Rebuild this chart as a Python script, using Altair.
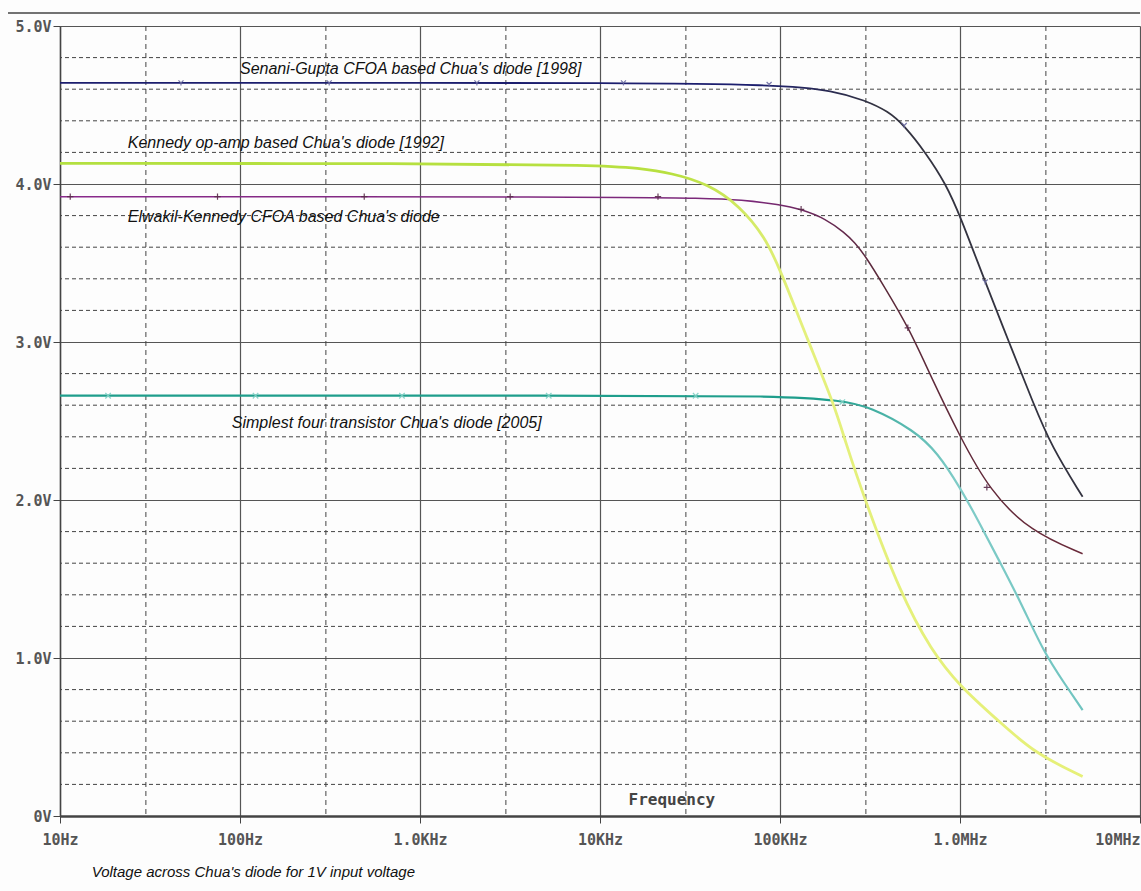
import altair as alt
import pandas as pd

# ---- data ----
senani_f = [10, 100, 1e3, 1e4, 1e5, 2e5, 2.95e5, 4e5, 4.9e5, 6.43e5, 8.35e5, 1e6, 1.38e6, 1.87e6, 2.56e6, 3.22e6, 4.8e6]
senani_v = [4.64, 4.64, 4.64, 4.64, 4.63, 4.59, 4.53, 4.46, 4.37, 4.20, 4.00, 3.80, 3.38, 3.00, 2.61, 2.34, 2.02]

kennedy_f = [10, 1e3, 1e4, 1.63e4, 2.49e4, 4e4, 6e4, 8.3e4, 1e5, 1.43e5, 2.02e5, 2.29e5, 2.96e5, 4.66e5, 6.9e5, 1e6, 1.61e6, 2.57e6, 4.8e6]
kennedy_v = [4.13, 4.13, 4.12, 4.10, 4.07, 4.00, 3.86, 3.66, 3.46, 3.01, 2.59, 2.38, 2.00, 1.41, 1.05, 0.82, 0.61, 0.40, 0.25]

elwakil_f = [10, 1e4, 4e4, 6e4, 1e5, 1.31e5, 1.8e5, 2.29e5, 2.6e5, 2.96e5, 3.8e5, 5.25e5, 6.9e5, 1e6, 1.46e6, 2.46e6, 4.8e6]
elwakil_v = [3.92, 3.92, 3.91, 3.90, 3.87, 3.84, 3.78, 3.69, 3.63, 3.55, 3.35, 3.08, 2.78, 2.40, 2.06, 1.80, 1.66]

simplest_f = [10, 1e4, 1e5, 2.19e5, 3.18e5, 5.58e5, 7.5e5, 1e6, 1.29e6, 1.66e6, 2.16e6, 2.94e6, 3.8e6, 4.8e6]
simplest_v = [2.66, 2.66, 2.66, 2.63, 2.59, 2.44, 2.30, 2.08, 1.85, 1.61, 1.36, 1.03, 0.84, 0.67]

# trace marker symbols (PSpice style)
senani_mk_f = [47, 313, 2070, 13500, 87000, 4.9e5, 1.38e6]
senani_mk_v = [4.64, 4.64, 4.64, 4.64, 4.63, 4.37, 3.38]
elwakil_mk_f = [11.4, 75, 490, 3170, 21000, 1.31e5, 5.13e5, 1.41e6]
elwakil_mk_v = [3.92, 3.92, 3.92, 3.92, 3.92, 3.84, 3.09, 2.08]
simplest_mk_f = [18.5, 122, 794, 5190, 34000, 2.22e5]
simplest_mk_v = [2.66, 2.66, 2.66, 2.66, 2.66, 2.62]

x_ticks = [10, 100, 1e3, 1e4, 1e5, 1e6, 1e7]
x_tick_labels = ["10Hz", "100Hz", "1.0KHz", "10KHz", "100KHz", "1.0MHz", "10MHz"]
y_ticks = [0, 1, 2, 3, 4, 5]
y_tick_labels = ["0V", "1.0V", "2.0V", "3.0V", "4.0V", "5.0V"]
minor_y = [0.2, 0.4, 0.6, 0.8, 1.2, 1.4, 1.6, 1.8, 2.2, 2.4, 2.6, 2.8, 3.2, 3.4, 3.6, 3.8, 4.2, 4.4, 4.6, 4.8]
minor_x = [30, 300, 3e3, 3e4, 3e5, 3e6]

labels = [
    "Senani-Gupta CFOA based Chua's diode [1998]",
    "Kennedy op-amp based Chua's diode [1992]",
    "Elwakil-Kennedy CFOA based Chua's diode",
    "Simplest  four transistor Chua's diode [2005]",
]
label_f = [100, 23.8, 23.8, 90]
label_v = [4.73, 4.26, 3.79, 2.49]

W, H = 1080, 790
GRID = "#555555"
LABEL_FONT = "Liberation Sans"

x_scale = alt.Scale(type="log", domain=[10, 1e7], nice=False)
y_scale = alt.Scale(domain=[0, 5], nice=False, zero=False)

xlab = "[" + ",".join("'%s'" % s for s in ([""] + x_tick_labels)) + "][round(log(datum.value)/LN10)]"
ylab = "[" + ",".join("'%s'" % s for s in y_tick_labels) + "][round(datum.value)]"

x_axis = alt.Axis(values=x_ticks, labelExpr=xlab, title=None, grid=True, gridColor=GRID,
                  gridWidth=1.2, domainColor="#444444", domainWidth=2.5, tickColor="#444444",
                  tickSize=7, labelPadding=9, labelFont="DejaVu Sans Mono", labelFontWeight="bold",
                  labelFontSize=15, labelColor="#555555",
                  labelAlign={"condition": {"test": "datum.value > 5000000", "value": "right"}, "value": "center"})
y_axis = alt.Axis(values=y_ticks, labelExpr=ylab, title=None, grid=True, gridColor=GRID,
                  gridWidth=1.2, domainColor="#444444", domainWidth=1.5, tickColor="#444444",
                  tickSize=7, labelPadding=2, labelFont="DejaVu Sans Mono", labelFontWeight="bold",
                  labelFontSize=15, labelColor="#555555")

base_df = pd.DataFrame({"f": [10, 1e7], "v": [0, 5]})
axes = alt.Chart(base_df).mark_point(opacity=0).encode(
    x=alt.X("f:Q", scale=x_scale, axis=x_axis),
    y=alt.Y("v:Q", scale=y_scale, axis=y_axis),
)

minor_h = alt.Chart(pd.DataFrame({"v": minor_y})).mark_rule(
    color="#444444", strokeWidth=1, strokeDash=[4, 3]).encode(y=alt.Y("v:Q", scale=y_scale))
minor_v = alt.Chart(pd.DataFrame({"f": minor_x})).mark_rule(
    color="#444444", strokeWidth=1, strokeDash=[5, 4]).encode(x=alt.X("f:Q", scale=x_scale))


def grad(stops):
    return alt.Gradient(gradient="linear", x1=0, x2=1, y1=0, y2=0,
                        stops=[alt.GradientStop(color=c, offset=o) for o, c in stops])


def series(fs, vs, stroke, width):
    df = pd.DataFrame({"f": fs, "v": vs})
    return alt.Chart(df).mark_line(stroke=stroke, strokeWidth=width, interpolate="basis").encode(
        x=alt.X("f:Q", scale=x_scale), y=alt.Y("v:Q", scale=y_scale))


def markers(fs, vs, shape, color, size=30):
    df = pd.DataFrame({"f": fs, "v": vs})
    return alt.Chart(df).mark_point(shape=shape, filled=False, size=size, stroke=color,
                                    strokeWidth=1.2, opacity=0.9).encode(
        x=alt.X("f:Q", scale=x_scale), y=alt.Y("v:Q", scale=y_scale))


l_senani = series(senani_f, senani_v, grad([(0, "#1c1e6e"), (0.68, "#1c1e6e"), (0.8, "#333340"), (1, "#333340")]), 1.8)
l_kennedy = series(kennedy_f, kennedy_v, grad([(0, "#b3e040"), (0.6, "#b8e040"), (0.72, "#e4f07c"), (1, "#e6f078")]), 2.8)
l_elwakil = series(elwakil_f, elwakil_v, grad([(0, "#8a2a8c"), (0.68, "#7a2878"), (0.8, "#5a2a3a"), (1, "#6a2a3a")]), 1.5)
l_simplest = series(simplest_f, simplest_v, grad([(0, "#1f9e8c"), (0.75, "#1f9e8c"), (0.88, "#80ccc8"), (1, "#70c4c0")]), 2.2)

m_senani = markers(senani_mk_f, senani_mk_v, "M-1,-1L0,0L1,-1M0,0L0,1", "#6a6aa0", 25)
m_elwakil = markers(elwakil_mk_f, elwakil_mk_v, "M-1,0L1,0M0,-1L0,1", "#5a2a4a", 40)
m_simplest = markers(simplest_mk_f, simplest_mk_v, "M-1,-1L1,1M-1,1L1,-1", "#7fd0c4", 30)

txt = alt.Chart(pd.DataFrame({"f": label_f, "v": label_v, "t": labels})).mark_text(
    align="left", baseline="middle", font=LABEL_FONT, fontStyle="italic",
    fontSize=16, color="#111111").encode(
    x=alt.X("f:Q", scale=x_scale), y=alt.Y("v:Q", scale=y_scale), text="t:N")

freq_txt = alt.Chart(pd.DataFrame({"f": [14400], "v": [0.10], "t": ["Frequency"]})).mark_text(
    align="left", baseline="middle", font="DejaVu Sans Mono", fontWeight="bold",
    fontSize=16, color="#444444").encode(
    x=alt.X("f:Q", scale=x_scale), y=alt.Y("v:Q", scale=y_scale), text="t:N")

caption = alt.Chart(pd.DataFrame({"f": [15], "v": [-0.354], "t": ["Voltage across Chua's diode for 1V input voltage"]})).mark_text(
    align="left", baseline="middle", font=LABEL_FONT, fontStyle="italic",
    fontSize=15, color="#111111").encode(
    x=alt.X("f:Q", scale=x_scale), y=alt.Y("v:Q", scale=y_scale), text="t:N")

top_frame = alt.Chart(pd.DataFrame({"a": [0]})).mark_rule(color="#444444", strokeWidth=1.5).encode(
    x=alt.value(-52), x2=alt.value(W), y=alt.value(-13))

chart = alt.layer(
    axes, minor_h, minor_v, l_simplest, l_elwakil, l_kennedy, l_senani,
    m_simplest, m_elwakil, m_senani, txt, freq_txt, caption, top_frame
).properties(
    width=W, height=H,
    autosize=alt.AutoSizeParams(type="none"),
    padding={"left": 60, "top": 26, "right": 1, "bottom": 75},
    background="#fdfdfd",
).configure_view(stroke=None)

chart.save("out.html", embed_options={"renderer": "svg", "actions": False})
